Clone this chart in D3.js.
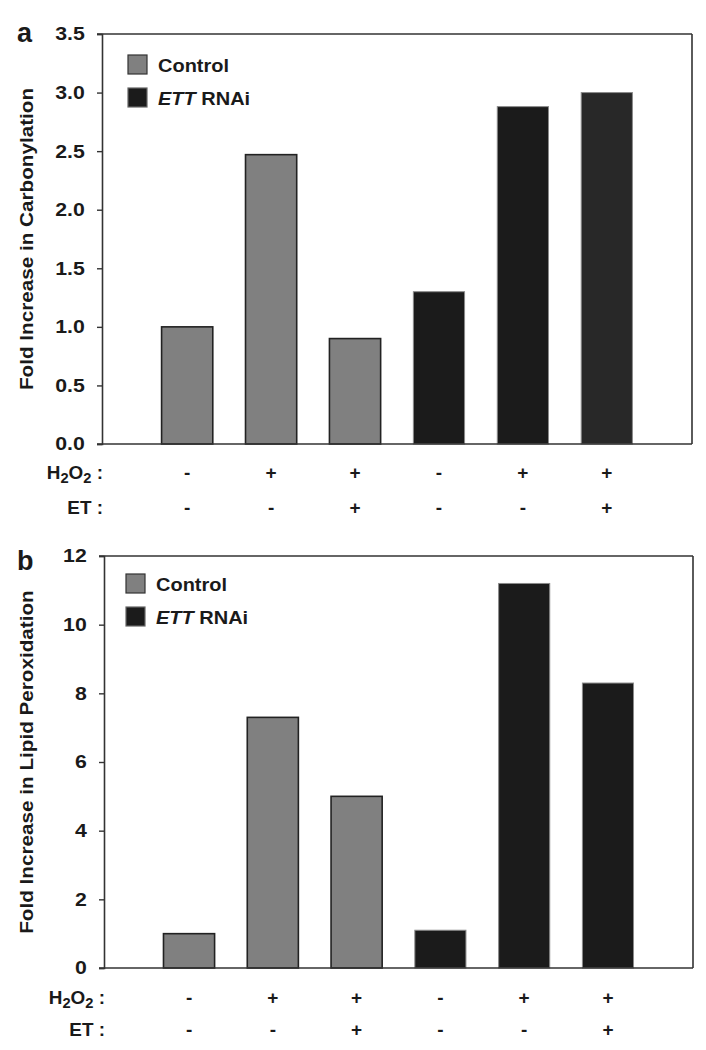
<!DOCTYPE html>
<html>
<head>
<meta charset="utf-8">
<script src="https://cdn.jsdelivr.net/npm/d3@7"></script>
<style>
  html, body { margin: 0; padding: 0; background: #fff; }
  svg text { font-family: "Liberation Sans", Arial, Helvetica, sans-serif; font-weight: bold; fill: #1a1a1a; }
</style>
</head>
<body>
<svg id="chart" width="706" height="1050"></svg>
<script>
// ---- data ----
const groups = ["Control", "Control", "Control", "ETT RNAi", "ETT RNAi", "ETT RNAi"];
const h2o2 = ["-", "+", "+", "-", "+", "+"];
const et = ["-", "-", "+", "-", "-", "+"];
const carbonylation = [1.0, 2.47, 0.9, 1.3, 2.88, 3.0];
const lipidPeroxidation = [1.0, 7.3, 5.0, 1.1, 11.2, 8.3];
const ticksA = [0, 0.5, 1.0, 1.5, 2.0, 2.5, 3.0, 3.5];
const ticksB = [0, 2, 4, 6, 8, 10, 12];
const legendLabels = ["Control", "ETT RNAi"];

const svg = d3.select("#chart");
const frameColor = "#333";
const SX = 1.15; // horizontal stretch of the original typeface

function stretchedText(g, x, y, size, sx) {
  return g.append("text")
    .attr("transform", `translate(${x},${y}) scale(${sx},1)`)
    .style("font-size", size + "px");
}

function panel(opts) {
  const { letter, values, ticks, fmt, ymax, left, right, top, bottom, title, rowY, legendX, legendY, lastFill } = opts;
  const g = svg.append("g");
  const x = d3.scaleBand().domain(d3.range(values.length)).range([left, right])
    .paddingInner(0.39).paddingOuter(0.71);
  const y = d3.scaleLinear().domain([0, ymax]).range([bottom, top]);

  // bars
  g.selectAll("rect.bar").data(values).join("rect")
    .attr("class", "bar")
    .attr("x", (d, i) => x(i))
    .attr("width", x.bandwidth())
    .attr("y", d => y(d))
    .attr("height", d => y(0) - y(d))
    .attr("fill", (d, i) => groups[i] === "Control" ? "#808080" : (i === 5 && lastFill ? lastFill : "#1b1b1b"))
    .attr("stroke", (d, i) => groups[i] === "Control" ? "#222" : "#8a8a8a")
    .attr("stroke-width", (d, i) => groups[i] === "Control" ? 1.6 : 1);

  // frame
  g.append("line").attr("x1", right).attr("x2", right).attr("y1", top).attr("y2", bottom)
    .attr("stroke", frameColor).attr("stroke-width", 1.6);
  g.append("line").attr("x1", left - 5).attr("x2", right).attr("y1", top).attr("y2", top)
    .attr("stroke", frameColor).attr("stroke-width", 1.6);
  g.append("line").attr("x1", left - 5).attr("x2", right).attr("y1", bottom).attr("y2", bottom)
    .attr("stroke", frameColor).attr("stroke-width", 1.6);

  // y axis
  const ax = g.append("g").attr("transform", `translate(${left},0)`)
    .call(d3.axisLeft(y).tickValues(ticks).tickFormat(fmt).tickSize(5).tickPadding(10));
  ax.select(".domain").attr("stroke", frameColor).attr("stroke-width", 1.6);
  ax.selectAll(".tick line").attr("stroke", frameColor).attr("stroke-width", 1.4);
  ax.selectAll(".tick text").style("font-size", "18.5px").style("font-family", '"Liberation Sans", Arial, sans-serif')
    .style("font-weight", "bold").attr("fill", "#1a1a1a")
    .attr("transform", `scale(${SX},1)`);

  // y title
  g.append("text")
    .attr("transform", `translate(33,${(top + bottom) / 2}) rotate(-90) scale(${SX},1)`)
    .attr("text-anchor", "middle")
    .style("font-size", "18px")
    .text(title);

  // panel letter
  g.append("text").attr("x", 17).attr("y", top + (letter === "a" ? 8 : 14))
    .style("font-size", "27px").text(letter);

  // legend
  legendLabels.forEach((lab, i) => {
    const ly = legendY + i * 33;
    g.append("rect").attr("x", legendX).attr("y", ly).attr("width", 19).attr("height", 19)
      .attr("fill", i === 0 ? "#808080" : "#1b1b1b")
      .attr("stroke", i === 0 ? "#333" : "#666").attr("stroke-width", 1.2);
    const t = stretchedText(g, legendX + 30, ly + 17, 18.5, 1.08);
    if (i === 0) t.text(lab);
    else {
      t.append("tspan").style("font-style", "italic").text("ETT");
      t.append("tspan").text(" RNAi");
    }
  });

  // treatment rows
  const h = stretchedText(g, left + 1, rowY[0] + 7, 18, 1.05).attr("text-anchor", "end");
  h.append("tspan").text("H");
  h.append("tspan").attr("dy", 4).style("font-size", "14px").text("2");
  h.append("tspan").attr("dy", -4).text("O");
  h.append("tspan").attr("dy", 4).style("font-size", "14px").text("2");
  h.append("tspan").attr("dy", -4).text(" :");
  stretchedText(g, left + 1, rowY[1] + 7, 18, 1.05).attr("text-anchor", "end").text("ET :");

  [h2o2, et].forEach((row, r) => {
    g.selectAll(null).data(row).join("text")
      .attr("x", (d, i) => x(i) + x.bandwidth() / 2)
      .attr("y", rowY[r] + 7)
      .attr("text-anchor", "middle")
      .style("font-size", "19px")
      .text(d => d);
  });
}

panel({
  letter: "a", values: carbonylation, ticks: ticksA, fmt: d3.format(".1f"), ymax: 3.5,
  left: 102, right: 692, top: 34, bottom: 444,
  title: "Fold Increase in Carbonylation", rowY: [472, 507],
  legendX: 128, legendY: 55, lastFill: "#282828"
});

panel({
  letter: "b", values: lipidPeroxidation, ticks: ticksB, fmt: d3.format("d"), ymax: 12,
  left: 104, right: 693, top: 556, bottom: 968,
  title: "Fold Increase in Lipid Peroxidation", rowY: [997, 1029],
  legendX: 126, legendY: 574, lastFill: null
});
</script>
</body>
</html>
